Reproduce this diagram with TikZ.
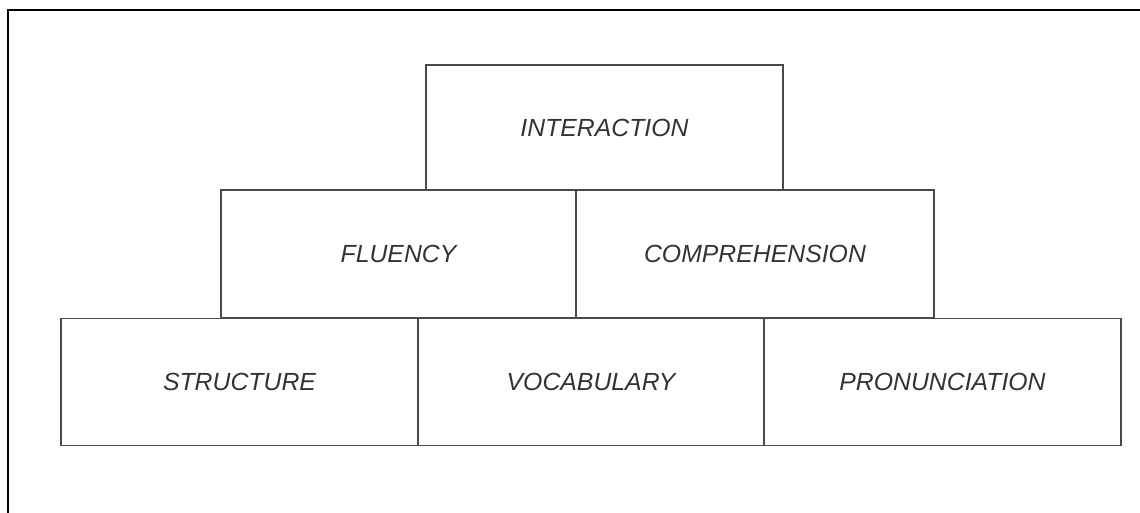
\documentclass[tikz,border=0pt]{standalone}
\usepackage{fontspec}
\setmainfont{Liberation Sans}
\definecolor{boxline}{HTML}{4A4A4A}
\definecolor{txt}{HTML}{333333}
\begin{document}
\begin{tikzpicture}[x=1pt,y=-1pt,
  blk/.style={draw=boxline,line width=1.8pt,rectangle,inner sep=0pt,outer sep=0pt,anchor=north west,
    font=\fontsize{24.8}{28}\selectfont\itshape,text=txt},
  frame/.style={draw=black,line width=2pt}]
\useasboundingbox (0,0) rectangle (1140,513);
\draw[frame] (7.5,513) -- (7.5,10) -- (1140,10);
\node[blk,minimum width=357pt,minimum height=125pt] (inter) at (426,65) {INTERACTION};
\node[blk,minimum width=355pt,minimum height=128pt] (flu) at (221,190) {FLUENCY};
\node[blk,minimum width=358pt,minimum height=128pt] (comp) at (576,190) {COMPREHENSION};
\node[blk,minimum width=357pt,minimum height=127pt] (struc) at (61,318.5) {STRUCTURE};
\node[blk,minimum width=346pt,minimum height=127pt] (voc) at (418,318.5) {VOCABULARY};
\node[blk,minimum width=357pt,minimum height=127pt] (pron) at (764,318.5) {PRONUNCIATION};
\end{tikzpicture}
\end{document}
